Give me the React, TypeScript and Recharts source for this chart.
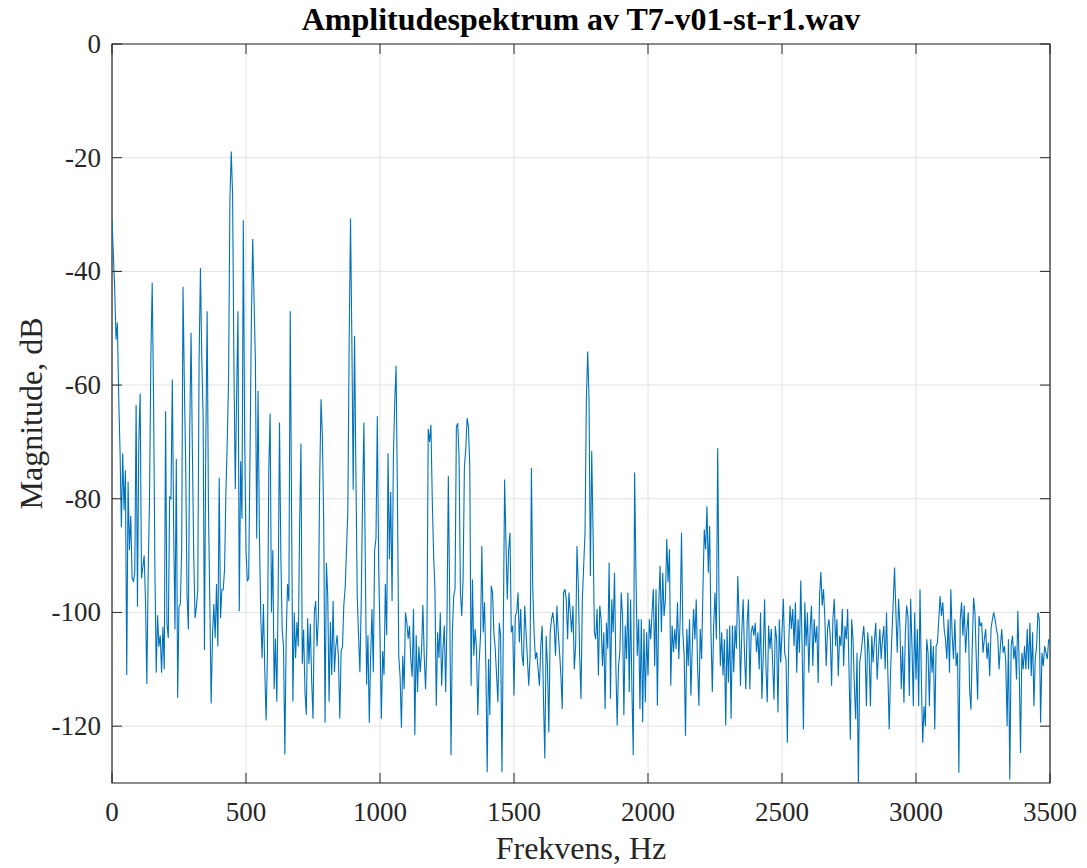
import React from "react";
import { LineChart, Line, XAxis, YAxis, CartesianGrid, ReferenceArea } from "recharts";

// ---- data (FFT magnitude in dB, 5 Hz bins) ----
const FREQ_STEP = 5;
const segmentStarts = [0, 605, 1210, 1845, 2460, 3000];

const mag0000 = [
  -31, -37, -43, -52, -49, -62, -71.6, -85, -72, -82,
  -75, -111, -77, -89, -83, -94, -94.5, -93, -63.5, -99,
  -70, -61.5, -94, -92, -90, -98, -112.6, -93, -80, -55,
  -42, -62, -92, -110.6, -100.5, -106, -104, -110.6, -102.5, -110,
  -64.6, -102, -104.5, -79.7, -80, -59, -85, -103, -73, -115,
  -99, -98.5, -89, -42.7, -60, -74, -97, -103, -68, -50.8,
  -72, -90, -101, -99, -96, -55.5, -39.4, -55, -65.6, -106.6,
  -70, -47, -82, -98, -116, -104, -98.5, -104.5, -95, -106,
  -76.3, -101, -96, -96, -92.4, -79, -70, -58.8, -27.3, -18.9,
  -26.6, -56.8, -78.3, -62, -47, -99.8, -73.4, -83.5, -31, -68.9,
  -89, -94.5, -94, -72.3, -48.8, -34.3, -45, -55.5, -87, -61,
  -86, -100.5, -108, -98.5, -110, -119, -107.5, -75, -65, -100,
  -89,
];

const mag0605 = [
  -113.5, -104.6, -115.7, -96.5, -66.6, -90, -103, -106, -125, -104,
  -95, -98, -47, -81.7, -115.7, -100, -108, -101.7, -106, -85,
  -70.3, -109, -103, -114, -118, -101, -109, -102, -112, -118.7,
  -100, -98, -106, -101, -76.5, -62.5, -69, -84, -119.4, -91.3,
  -97, -115.7, -101.7, -111, -98, -110.5, -106, -104, -108, -118.7,
  -106.8, -106, -98.7, -95.7, -89, -82, -52, -30.7, -52, -78.4,
  -51.4, -75, -97, -104, -110.5, -98, -80, -66.6, -90.6, -112.7,
  -104, -119.4, -108, -99.4, -110.5, -89, -87, -65.5, -92, -104,
  -118.7, -106.8, -111, -95, -104, -72, -90.6, -78.8, -98, -72.6,
  -63, -56.6, -79.5, -107.6, -111.3, -120.3, -107.6, -113.5, -100, -101.7,
  -104.6, -102.4, -108.3, -111.3, -99.4, -121.6, -104, -114, -106, -110.5,
  -106.8, -98.7, -107.6, -113.5, -105.4, -67.7, -70, -67, -80, -89.8,
  -95.9,
];

const mag1210 = [
  -116.4, -103.5, -108, -100, -112.9, -106.4, -102.3, -114, -101.2, -76,
  -97.7, -125.1, -103.5, -97.1, -95.9, -67.3, -66.7, -72.5, -96.5, -100.6,
  -94.2, -74.3, -71.3, -65.8, -67.3, -74.3, -112.9, -94.2, -107.6, -102.9,
  -106.4, -118.1, -108.8, -104.1, -88.3, -103.5, -98.2, -109.4, -128.1, -108.2,
  -118.1, -95.3, -96.5, -103.5, -106.4, -111.1, -115.8, -101.8, -104.1, -128.1,
  -103.5, -76.6, -87.7, -97.7, -88.9, -86, -103.5, -102.3, -114.6, -100.6,
  -100, -96.5, -105.3, -99.4, -107.6, -109.4, -98.8, -103.5, -108.2, -112.9,
  -107.6, -74.6, -95.9, -103.5, -108.2, -107, -110, -112.9, -105.8, -102.3,
  -115.2, -125.7, -104.1, -109.4, -121.1, -103.5, -101.2, -100, -102.3, -107.6,
  -98.8, -103.5, -107, -111.1, -117, -96.5, -95.9, -97.7, -104.7, -96.5,
  -100, -103.5, -98.8, -110, -105.8, -88.3, -95.3, -107.6, -115.2, -97.7,
  -91.8, -86, -62.6, -54.1, -62.6, -93.6, -71.6, -86, -103.5, -104.7,
  -99.4, -111.1, -98.8, -101.2, -109.4, -103.5, -117,
];

const mag1845 = [
  -101.8, -106.4, -91.2, -115.2, -97.7, -103.5, -93, -109.4, -119.9, -109.4,
  -107, -96.5, -100.6, -118.1, -102.3, -108.2, -96.5, -114, -97.7, -113.5,
  -125.1, -75.4, -93, -107.6, -101.2, -117, -101.2, -119.3, -102.9, -115.8,
  -103.5, -111.1, -101.2, -104.7, -100, -95.9, -109.4, -95.9, -116.4, -98.8,
  -91.8, -103.5, -93, -100.6, -97.7, -87.1, -94.7, -88.9, -112.9, -102.3,
  -107, -102.9, -106.4, -98.2, -108.2, -101.2, -86, -103.5, -107.6, -121.7,
  -102.9, -109.4, -101.2, -114.6, -106.4, -99.4, -104.7, -97.7, -109.4, -116.4,
  -102.9, -108.2, -95.9, -85.4, -88.9, -81.3, -93, -84.8, -103.5, -114,
  -102.3, -96.5, -104.7, -71.1, -97.7, -109.4, -103.5, -111.1, -104.7, -119.9,
  -102.9, -112.3, -102.3, -118.7, -102.3, -110.5, -102.3, -106.4, -93.6, -101.2,
  -112.9, -103.5, -97.7, -107, -113.5, -101.8, -97.7, -113.5, -103.5, -102.3,
  -104.1, -101.8, -107, -103.5, -110, -100, -115.2, -107.6, -97.7, -109.4,
  -115.8, -102.3, -106.4,
];

const mag2460 = [
  -102.9, -108.8, -115.3, -102.4, -104.7, -117.6, -101.2, -108.8, -103.5, -97.6,
  -107.1, -108.2, -122.9, -105.9, -98.8, -102.9, -99.4, -105.9, -98.2, -110.6,
  -101.2, -107.1, -94.4, -105.9, -120.6, -98.2, -105.9, -100, -110.6, -102.9,
  -98.8, -109.4, -101.2, -105.3, -102.4, -112.4, -97.1, -92.9, -98.8, -95.9,
  -101.2, -109.4, -102.9, -101.2, -104.1, -112.9, -101.2, -97.6, -105.9, -101.2,
  -111.2, -104.1, -105.9, -99.4, -109.4, -102.4, -104.7, -99.4, -110, -122.4,
  -101.2, -104.7, -112.9, -118.8, -107.1, -131, -108.8, -107.1, -104.7, -102.4,
  -106.5, -116.5, -103.5, -107.1, -116.5, -104.1, -108.8, -104.7, -101.8, -111.8,
  -107.1, -102.9, -108.2, -104.7, -102.4, -110, -100, -110.6, -120.6, -110.6,
  -104.1, -98.2, -92.1, -100, -107.1, -97.6, -102.4, -113.5, -105.9, -115.9,
  -104.1, -98.8, -100.6, -114.7, -97.6, -105.9, -116.5, -100,
];

const mag3000 = [
  -111.8, -102.9, -116.5, -95.9, -111.8, -122.9, -116.5, -120, -104.7, -107.1,
  -116.5, -104.7, -110.6, -105.9, -120.6, -105.9, -105.3, -101.2, -97.1, -100.6,
  -98.2, -102.9, -104.7, -108.2, -101.2, -110.6, -95.9, -104.1, -108.2, -101.2,
  -109.4, -107.1, -128.2, -101.2, -98.2, -104.1, -98.8, -107.1, -102.9, -100,
  -113.5, -117.1, -105.9, -97.4, -100, -108.2, -115.3, -100.6, -102.4, -101.8,
  -107.1, -104.7, -102.9, -108.2, -105.3, -111.2, -102.9, -101.2, -100, -101.2,
  -102.9, -104.1, -110, -105.9, -102.9, -107.1, -105.9, -108.8, -120, -104.7,
  -129.4, -105.9, -104.1, -108.2, -105.9, -111.8, -99.7, -109.4, -124.7, -107.1,
  -110, -105.9, -110, -102.9, -110, -101.8, -111.2, -103.5, -116.5, -108.2,
  -105.9, -100, -101.2, -119.4, -107.1, -109.4, -105.9, -107.1, -108.2, -104.7,
  -105.3,
];

const magnitudeSegments = [mag0000, mag0605, mag1210, mag1845, mag2460, mag3000];

const xTicks = [0, 500, 1000, 1500, 2000, 2500, 3000, 3500];
const yTicks = [-120, -100, -80, -60, -40, -20, 0];

const titleText = "Amplitudespektrum av T7-v01-st-r1.wav";
const xLabelText = "Frekvens, Hz";
const yLabelText = "Magnitude, dB";

const data = magnitudeSegments.flatMap((seg, s) =>
  seg.map((m, i) => ({ f: segmentStarts[s] + i * FREQ_STEP, m }))
);

// ---- layout / style ----
const W = 1087;
const H = 868;
const PLOT_LEFT = 112;
const PLOT_TOP = 44;
const PLOT_RIGHT = 1050;
const PLOT_BOTTOM = 783;
const TICK_LEN = 10;
const AXIS_COLOR = "#262626";
const FONT = "'Liberation Serif', 'Times New Roman', serif";

const XTick = (props: any) => {
  const { x, payload } = props;
  return (
    <g>
      <line x1={x} x2={x} y1={PLOT_BOTTOM} y2={PLOT_BOTTOM - TICK_LEN} stroke={AXIS_COLOR} strokeWidth={1} />
      <line x1={x} x2={x} y1={PLOT_TOP} y2={PLOT_TOP + TICK_LEN} stroke={AXIS_COLOR} strokeWidth={1} />
      <text x={x} y={PLOT_BOTTOM + 38} textAnchor="middle" fontSize={27} fontFamily={FONT} fill={AXIS_COLOR}>
        {String(payload.value)}
      </text>
    </g>
  );
};

const YTick = (props: any) => {
  const { y, payload } = props;
  return (
    <g>
      <line x1={PLOT_LEFT} x2={PLOT_LEFT + TICK_LEN} y1={y} y2={y} stroke={AXIS_COLOR} strokeWidth={1} />
      <line x1={PLOT_RIGHT} x2={PLOT_RIGHT - TICK_LEN} y1={y} y2={y} stroke={AXIS_COLOR} strokeWidth={1} />
      <text x={PLOT_LEFT - 11} y={y + 9} textAnchor="end" fontSize={27} fontFamily={FONT} fill={AXIS_COLOR}>
        {String(payload.value)}
      </text>
    </g>
  );
};

export default function App() {
  return (
    <div style={{ position: "absolute", left: 0, top: 0, width: W, height: H, background: "#ffffff" }}>
      <LineChart
        width={W}
        height={H}
        data={data}
        margin={{ top: PLOT_TOP, right: W - PLOT_RIGHT, left: PLOT_LEFT - 80, bottom: H - PLOT_BOTTOM - 60 }}
      >
        <CartesianGrid stroke="#e2e2e2" strokeWidth={1} />
        <XAxis
          dataKey="f"
          type="number"
          domain={[0, 3500]}
          ticks={xTicks}
          allowDataOverflow
          axisLine={false}
          tickLine={false}
          tickSize={0}
          tickMargin={0}
          height={60}
          tick={<XTick />}
          interval={0}
        />
        <YAxis
          type="number"
          domain={[-130, 0]}
          ticks={yTicks}
          allowDataOverflow
          axisLine={false}
          tickLine={false}
          tickSize={0}
          tickMargin={0}
          width={80}
          tick={<YTick />}
          interval={0}
        />
        <Line
          type="linear"
          dataKey="m"
          stroke="#0072BD"
          strokeWidth={1.1}
          dot={false}
          activeDot={false}
          isAnimationActive={false}
        />
        <ReferenceArea x1={0} x2={3500} y1={-130} y2={0} fill="none" stroke={AXIS_COLOR} strokeWidth={1.2} ifOverflow="visible" />
      </LineChart>
      <svg
        width={W}
        height={H}
        style={{ position: "absolute", left: 0, top: 0, pointerEvents: "none" }}
      >
        <text x={581} y={30} textAnchor="middle" fontSize={32} fontWeight="bold" fontFamily={FONT} fill="#000000">
          {titleText}
        </text>
        <text x={581} y={859} textAnchor="middle" fontSize={32} fontFamily={FONT} fill={AXIS_COLOR}>
          {xLabelText}
        </text>
        <text
          x={0}
          y={0}
          transform={`translate(42, 413.5) rotate(-90)`}
          textAnchor="middle"
          fontSize={32}
          fontFamily={FONT}
          fill={AXIS_COLOR}
        >
          {yLabelText}
        </text>
      </svg>
    </div>
  );
}
